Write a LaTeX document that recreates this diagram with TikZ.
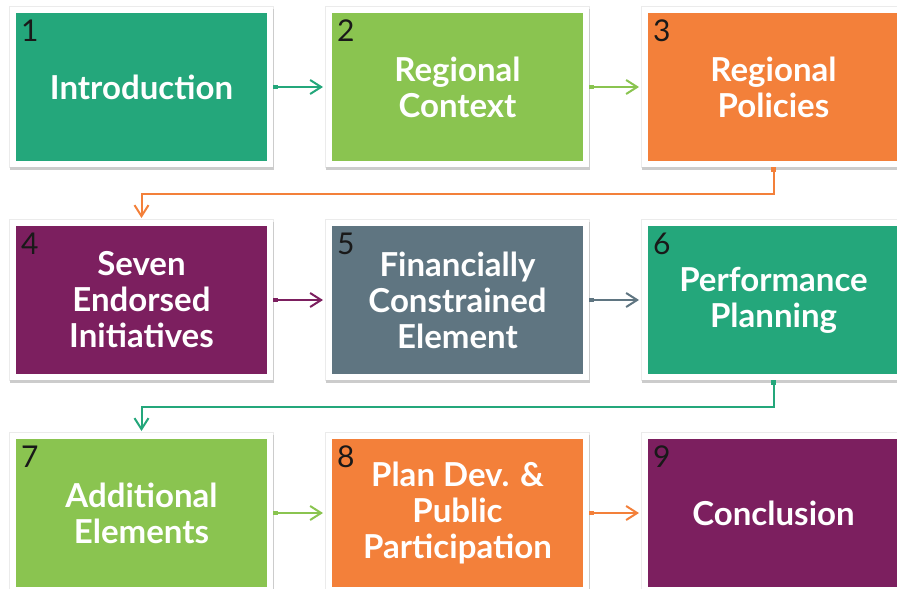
\documentclass[tikz,border=0pt]{standalone}
\usepackage{fontspec}
\usetikzlibrary{calc}
\usetikzlibrary{arrows.meta}
\usetikzlibrary{positioning}

\newfontfamily\stagefont{Lato}

\definecolor{stageteal}{HTML}{24A77B}
\definecolor{stagelime}{HTML}{8AC450}
\definecolor{stageorange}{HTML}{F3803A}
\definecolor{stageplum}{HTML}{7C1F5F}
\definecolor{stageslate}{HTML}{5F7581}

\begin{document}
\begin{tikzpicture}[x=1pt,y=-1pt]

\tikzset{
    stage/.style={rectangle, minimum width=251pt, minimum height=148pt,
      inner sep=0pt, outer sep=0pt, fill=#1, text=white, align=center,
      font=\stagefont\bfseries\fontsize{33}{36}\selectfont,
      preaction={draw=black!8, line width=14pt},
      preaction={draw=black!20, line width=13pt, transform canvas={yshift=-2.5pt}},
      preaction={draw=white, line width=12pt}},
    stagenum/.style={anchor=north west, inner sep=0pt, text=black!90,
      font=\stagefont\fontsize{30}{30}\selectfont},
    flow/.style={draw=#1, line width=2pt,
      {Rectangle[length=5pt,width=4.5pt]}-{Straight Barb[length=11pt,width=14pt]}}
}

\useasboundingbox (0,0) rectangle (897,589);

%%%%%%%%%%%%%%%%%%%%%%%%%%%%%%%%%%%%%%%%%%%%%%%%%%%%%%%%%
%                       Begin Picture                   %
%%%%%%%%%%%%%%%%%%%%%%%%%%%%%%%%%%%%%%%%%%%%%%%%%%%%%%%%%

%%% Row 1 %%%
\node[stage=stageteal] (b1) at (141.5,87) {Introduction};
\node[stage=stagelime, right=65pt of b1] (b2) {Regional\\Context};
\node[stage=stageorange, right=65pt of b2] (b3) {Regional\\Policies};

%%% Row 2 %%%
\node[stage=stageplum, below=65pt of b1] (b4) {Seven\\Endorsed\\Initiatives};
\node[stage=stageslate, right=65pt of b4] (b5) {Financially\\Constrained\\Element};
\node[stage=stageteal, right=65pt of b5] (b6) {Performance\\Planning};

%%% Row 3 %%%
\node[stage=stagelime, below=65pt of b4] (b7) {Additional\\Elements};
\node[stage=stageorange, right=65pt of b7] (b8) {Plan Dev. \&\\Public\\Participation};
\node[stage=stageplum, right=65pt of b8] (b9) {Conclusion};

% Step numbers
\foreach \i in {1,...,9}
  \node[stagenum] (n\i) at ($(b\i.north west)+(5,7)$) {\i};

% Arrows along the rows
\draw[flow=stageteal, shorten <=6pt, shorten >=9pt] (b1) -- (b2);
\draw[flow=stagelime, shorten <=6pt, shorten >=9pt] (b2) -- (b3);
\draw[flow=stageplum, shorten <=6pt, shorten >=9pt] (b4) -- (b5);
\draw[flow=stageslate, shorten <=6pt, shorten >=9pt] (b5) -- (b6);
\draw[flow=stagelime, shorten <=6pt, shorten >=9pt] (b7) -- (b8);
\draw[flow=stageorange, shorten <=6pt, shorten >=9pt] (b8) -- (b9);

% Elbows down to the next row
\coordinate (turn34) at ($(b3.south)!.5!(b4.north)$);
\draw[flow=stageorange, shorten <=6pt, shorten >=8pt] (b3.south) |- (turn34) -| (b4.north);
\coordinate (turn67) at ($(b6.south)!.5!(b7.north)$);
\draw[flow=stageteal, shorten <=6pt, shorten >=8pt] (b6.south) |- (turn67) -| (b7.north);

\end{tikzpicture}
\end{document}
